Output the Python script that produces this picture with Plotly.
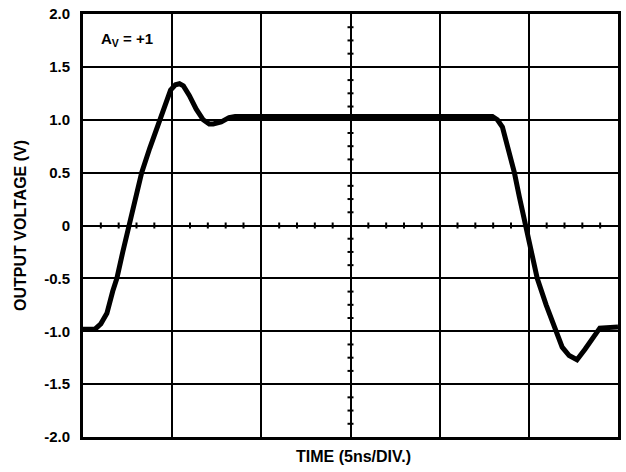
import plotly.graph_objects as go

# Output voltage step response, unity gain (time in ns, 5 ns per division)
time_ns = [0.0, 0.67, 1.00, 1.34, 1.67, 1.90, 2.23, 2.56, 2.90, 3.29, 3.74, 4.29,
           4.63, 4.91, 5.18, 5.41, 5.63, 5.96, 6.35, 6.74, 7.08, 7.30, 7.75, 8.19,
           8.53, 22.96, 23.24, 23.52, 23.80, 24.19, 24.47, 24.80, 25.14, 25.47,
           25.97, 26.48, 26.87, 27.26, 27.70, 28.15, 28.65, 28.98, 30.0]
vout = [-0.98, -0.98, -0.93, -0.83, -0.62, -0.50, -0.25, 0.0, 0.23, 0.50, 0.73, 1.00,
        1.17, 1.28, 1.33, 1.34, 1.32, 1.23, 1.10, 1.00, 0.96, 0.96, 0.98, 1.02,
        1.03, 1.03, 1.00, 0.93, 0.75, 0.50, 0.27, 0.0, -0.25, -0.50,
        -0.75, -0.98, -1.15, -1.23, -1.27, -1.17, -1.05, -0.97, -0.96]

y_ticks = [2.0, 1.5, 1.0, 0.5, 0.0, -0.5, -1.0, -1.5, -2.0]
y_labels = ["2.0", "1.5", "1.0", "0.5", "0", "-0.5", "-1.0", "-1.5", "-2.0"]

FONT = "Liberation Sans, Arial, sans-serif"

fig = go.Figure()
fig.add_trace(go.Scatter(
    x=time_ns, y=vout, mode="lines",
    line=dict(color="black", width=5),
    hoverinfo="skip", showlegend=False,
))

shapes = []
# minor ticks along the horizontal centre line (1 ns steps)
for k in range(1, 30):
    if k % 5 == 0:
        continue
    shapes.append(dict(type="line", xref="x", yref="y", x0=k, x1=k,
                       ysizemode="pixel", yanchor=0, y0=-3, y1=3,
                       line=dict(color="black", width=2)))
# minor ticks along the vertical centre line (0.125 V steps)
for k in range(-16, 17):
    if k % 4 == 0:
        continue
    shapes.append(dict(type="line", xref="x", yref="y", y0=k * 0.125, y1=k * 0.125,
                       xsizemode="pixel", xanchor=15, x0=-3, x1=3,
                       line=dict(color="black", width=2)))

fig.update_layout(
    width=626, height=472,
    margin=dict(l=83, r=5, t=12, b=35),
    paper_bgcolor="white", plot_bgcolor="white",
    font=dict(family=FONT, color="black"),
    shapes=shapes,
    xaxis=dict(range=[0, 30], dtick=5, tick0=0, showticklabels=False, ticks="",
               showgrid=True, gridcolor="black", gridwidth=2,
               showline=True, linecolor="black", linewidth=3, mirror=True,
               zeroline=False, fixedrange=True),
    yaxis=dict(range=[-2, 2], tickvals=y_ticks, ticktext=y_labels, ticks="",
               ticklabelstandoff=7,
               tickfont=dict(family=FONT, size=15, color="black", weight="bold"),
               showgrid=True, gridcolor="black", gridwidth=2,
               showline=True, linecolor="black", linewidth=3, mirror=True,
               zeroline=False, fixedrange=True),
    annotations=[
        dict(text="<b>A<sub>V</sub> = +1</b>", xref="paper", yref="paper",
             x=0.029, y=0.94, xanchor="left", yanchor="middle", showarrow=False,
             font=dict(family=FONT, size=15, color="black")),
        dict(text="<b>OUTPUT VOLTAGE (V)</b>", xref="paper", yref="paper",
             x=-0.117, y=0.5, xanchor="center", yanchor="middle", showarrow=False,
             textangle=-90, font=dict(family=FONT, size=16, color="black")),
        dict(text="<b>TIME (5ns/DIV.)</b>", xref="paper", yref="paper",
             x=0.505, y=-0.047, xanchor="center", yanchor="middle", showarrow=False,
             font=dict(family=FONT, size=16, color="black")),
    ],
)

fig.write_html("out.html")
